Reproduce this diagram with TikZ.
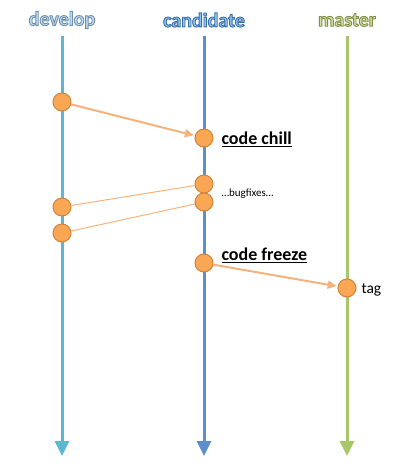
\documentclass[tikz,border=0pt]{standalone}
\usepackage{fontspec}
\setmainfont{Carlito}
\usetikzlibrary{arrows.meta}
\definecolor{devc}{HTML}{5BB8D0}
\definecolor{candc}{HTML}{5B8FCB}
\definecolor{mastc}{HTML}{A8C66A}
\definecolor{devt}{HTML}{C4DDF0}
\definecolor{candt}{HTML}{8EC3EA}
\definecolor{mastt}{HTML}{D3E2A2}
\definecolor{commitfill}{HTML}{F9A655}
\definecolor{commitdraw}{HTML}{D0843A}
\definecolor{mergec}{HTML}{F4B37E}
\newcommand{\outlinetext}[3]{\textcolor{#1}{\special{pdf:literal direct 2 Tr 0.9 w #2 RG}#3\special{pdf:literal direct 0 Tr}}}
\begin{document}
\begin{tikzpicture}[x=1pt,y=-1pt,
  lane/.style={line width=3pt,-{Triangle[length=15pt,width=14pt]}},
  commit/.style={circle,fill=commitfill,draw=commitdraw,line width=1pt,minimum size=18pt,inner sep=0pt},
  flow/.style={mergec,line width=2pt,-{Triangle[length=9pt,width=8pt]},shorten >=1pt},
  back/.style={mergec,line width=1pt},
  title/.style={font=\fontsize{20}{22}\selectfont\bfseries},
  lbl/.style={font=\fontsize{18}{20}\selectfont\bfseries,anchor=west},
]
\useasboundingbox (0,0) rectangle (412,475);
% titles
\node[title] (tdev) at (62,20) {\outlinetext{devt}{0.43 0.56 0.69}{develop}};
\node[title] (tcand) at (204,20) {\outlinetext{candt}{0.23 0.43 0.65}{candidate}};
\node[title] (tmast) at (347,20) {\outlinetext{mastt}{0.50 0.56 0.29}{master}};
% lanes
\coordinate (ds) at (62,36); \coordinate (de) at (62,456);
\coordinate (cs) at (204,36); \coordinate (ce) at (204,456);
\coordinate (ms) at (347,36); \coordinate (me) at (347,456);
\draw[lane,devc] (ds) -- (de);
\draw[lane,candc] (cs) -- (ce);
\draw[lane,mastc] (ms) -- (me);
% commits
\node[commit] (d1) at (62,102) {};
\node[commit] (c1) at (204,138) {};
\node[commit] (c2) at (204,184) {};
\node[commit] (c3) at (204,202) {};
\node[commit] (d2) at (62,207) {};
\node[commit] (d3) at (62,233) {};
\node[commit] (c4) at (204,263) {};
\node[commit] (m1) at (347,288) {};
% connectors
\draw[flow] (d1) -- (c1);
\draw[back] (c2) -- (d2);
\draw[back] (c3) -- (d3);
\draw[flow] (c4) -- (m1);
% labels
\node[lbl] (lchill) at (218,139) {\underline{code chill}};
\node[anchor=west,font=\fontsize{11}{13}\selectfont] (lbug) at (218,194) {…bugfixes…};
\node[lbl] (lfreeze) at (218,255) {\underline{code freeze}};
\node[anchor=west,font=\fontsize{15.5}{17}\selectfont] (ltag) at (358,290) {tag};
\end{tikzpicture}
\end{document}
